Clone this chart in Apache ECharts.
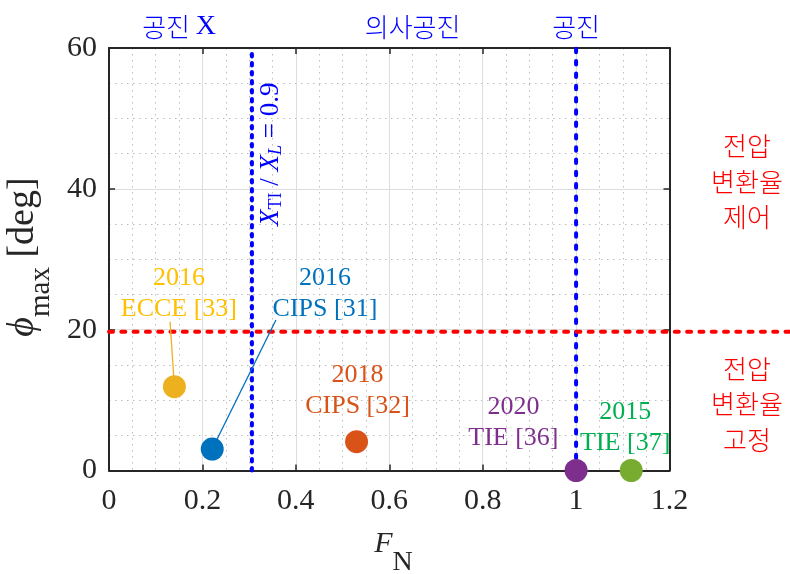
<!DOCTYPE html>
<html>
<head>
<meta charset="utf-8">
<script src="https://cdn.jsdelivr.net/npm/echarts@6/dist/echarts.min.js"></script>
<style>
  html, body { margin: 0; padding: 0; background: #fff; }
  #chart { width: 790px; height: 574px; }
</style>
</head>
<body>
<div id="chart"></div>
<script>
// Operating points reported in the literature
const venues = ['ECCE [33]', 'CIPS [31]', 'CIPS [32]', 'TIE [36]', 'TIE [37]'];
const years = ['2016', '2016', '2018', '2020', '2015'];
const fnValues = [0.14, 0.221, 0.53, 1.0, 1.118];
const phiMaxValues = [11.9, 3.05, 4.1, 0, 0];

// Region boundaries: X_TI / X_L = 0.9, resonance, and the voltage-gain limit
const boundaryFN = [0.306, 1.0];
const phiLimit = 19.7;

// Axis ranges and tick steps
const xRange = [0, 1.2];
const yRange = [0, 60];
const xStep = 0.2;
const yStep = 20;

// Region captions
const topCaptions = ['공진', '의사공진', '공진'];
const topCaptionSuffix = ['X', '', ''];
const topCaptionFN = [0.15, 0.65, 1.0];
const upperCaption = ['전압', '변환율', '제어'];
const lowerCaption = ['전압', '변환율', '고정'];

// ---- styling ----
const serif = '"Liberation Serif", "Times New Roman", "DejaVu Serif", serif';
const korean = '"Noto Sans CJK KR", "Noto Sans CJK SC", sans-serif';
const axisColor = '#262626';
const markerColors = ['#EDB120', '#0072BD', '#D95319', '#7E2F8E', '#77AC30'];
const textColors = ['#FFC000', '#0072BD', '#D95319', '#7E2F8E', '#00B050'];
// label centre relative to its marker, in pixels
const labelOffsets = [[4.5, -92.7], [112.7, -155], [1, -50.7], [-62.7, -47.5], [-6, -43]];
// leader lines from marker centre to a point near the label (pixels)
const leaders = { 0: [-4.3, -65], 1: [63.7, -129] };

function frameAxis(pos, isX, main) {
  const range = isX ? xRange : yRange;
  return {
    type: 'value',
    position: pos,
    min: range[0], max: range[1], interval: isX ? xStep : yStep,
    axisLine: { show: true, onZero: false, lineStyle: { color: axisColor, width: 2 } },
    axisTick: { show: true, inside: true, length: 6, lineStyle: { color: axisColor, width: 1.5 } },
    minorTick: { show: main, splitNumber: 4, length: 1, lineStyle: { opacity: 0 } },
    axisLabel: main ? {
      show: true, color: axisColor, fontSize: 30, fontFamily: serif, margin: isX ? 16 : 12
    } : { show: false },
    splitLine: { show: main, lineStyle: { color: '#dedede', width: 1 } },
    minorSplitLine: { show: main, lineStyle: { color: '#bdbdbd', width: 1, type: [1.5, 4.5] } }
  };
}

const pointData = fnValues.map((fn, i) => ({
  value: [fn, phiMaxValues[i]],
  itemStyle: { color: markerColors[i], opacity: 1 },
  label: {
    show: true,
    position: 'inside',
    offset: labelOffsets[i],
    formatter: '{a|' + years[i] + '}\n{a|' + venues[i] + '}',
    rich: { a: { color: textColors[i], fontSize: 26, fontFamily: serif, lineHeight: 31, align: 'center' } }
  }
}));

const boundaryDash = [[2.5, 6.5], [3.5, 8.8]];

const option = {
  animation: false,
  backgroundColor: '#ffffff',
  grid: { left: 109, right: 120.5, top: 48, bottom: 103.5 },
  xAxis: [frameAxis('bottom', true, true), frameAxis('top', true, false)],
  yAxis: [frameAxis('left', false, true), frameAxis('right', false, false)],
  series: boundaryFN.map((fn, k) => ({
    type: 'line',
    xAxisIndex: 0, yAxisIndex: 0,
    data: [[fn, yRange[0]], [fn, yRange[1]]],
    symbol: 'none',
    silent: true,
    z: 1,
    clip: false,
    lineStyle: { color: '#0000FF', width: 4, type: boundaryDash[k], cap: 'round' }
  })).concat([{
    type: 'scatter',
    xAxisIndex: 0, yAxisIndex: 0,
    symbol: 'circle',
    symbolSize: 23,
    clip: false,
    z: 5,
    itemStyle: { opacity: 1 },
    data: pointData
  }])
};

const chart = echarts.init(document.getElementById('chart'), null, { renderer: 'canvas' });
chart.setOption(option);

function px(x, y) {
  return chart.convertToPixel({ gridIndex: 0 }, [x, y]);
}

// text measuring for runs that mix normal and subscript pieces
const measureCtx = document.createElement('canvas').getContext('2d');
function fontOf(p) {
  return (p.italic ? 'italic ' : '') + p.size + 'px ' + (p.family || serif);
}
function measure(p) {
  measureCtx.font = fontOf(p);
  return measureCtx.measureText(p.text).width;
}
// Lay out a run of pieces centred at (cx, baseline); rot = 0 or PI/2 (reads upward).
function textRun(pieces, cx, baseline, rot, color) {
  const widths = pieces.map(measure);
  const total = widths.reduce((a, b) => a + b, 0);
  let along = -total / 2;
  const out = [];
  pieces.forEach((p, i) => {
    const perp = (p.dy || 0) - 0.34 * p.size;  // em middle relative to baseline
    let x, y;
    if (rot) { x = baseline + perp; y = cx - along; }
    else { x = cx + along; y = baseline + perp; }
    out.push({
      type: 'text', z: 10, silent: true, x: x, y: y, rotation: rot,
      style: {
        text: p.text, fill: color, align: 'left', verticalAlign: 'middle',
        fontFamily: p.family || serif, fontSize: p.size,
        fontStyle: p.italic ? 'italic' : 'normal'
      }
    });
    along += widths[i];
  });
  return out;
}

const graphics = [];

// voltage-gain limit, carried past the right edge of the axes
const limL = px(xRange[0], phiLimit);
graphics.push({
  type: 'line', z: 2, silent: true,
  shape: { x1: limL[0], y1: limL[1], x2: chart.getWidth(), y2: limL[1] },
  style: { stroke: '#FF0000', lineWidth: 4, lineDash: [4, 8.3], lineCap: 'round' }
});

// leader lines
Object.keys(leaders).forEach(k => {
  const i = +k;
  const p = px(fnValues[i], phiMaxValues[i]);
  graphics.push({
    type: 'line', z: 3, silent: true,
    shape: { x1: p[0], y1: p[1], x2: p[0] + leaders[k][0], y2: p[1] + leaders[k][1] },
    style: { stroke: markerColors[i], lineWidth: 1.3 }
  });
});

// captions above the axes
topCaptionFN.forEach((fn, i) => {
  const p = px(fn, yRange[1]);
  const txt = topCaptionSuffix[i]
    ? '{k|' + topCaptions[i] + ' }{s|' + topCaptionSuffix[i] + '}'
    : '{k|' + topCaptions[i] + '}';
  graphics.push({
    type: 'text', z: 10, silent: true, x: p[0], y: 27,
    style: {
      text: txt, align: 'center', verticalAlign: 'middle',
      rich: {
        k: { fontFamily: korean, fontWeight: 300, fontSize: 26, fill: '#0000FF', lineHeight: 30 },
        s: { fontFamily: serif, fontSize: 28, fill: '#0000FF', lineHeight: 30 }
      }
    }
  });
});

// captions to the right of the axes
[[upperCaption, 41], [lowerCaption, 9.4]].forEach(([lines, phi]) => {
  const p = px(xRange[1], phi);
  graphics.push({
    type: 'text', z: 10, silent: true, x: 747, y: p[1],
    style: {
      text: lines.join('\n'), align: 'center', verticalAlign: 'middle',
      fontFamily: korean, fontWeight: 300, fontSize: 26, lineHeight: 35.5, fill: '#FF0000'
    }
  });
});

// ratio annotation beside the left boundary
const rp = px(0.351, 44.9);
graphics.push(...textRun([
  { text: 'X', size: 27, italic: true },
  { text: 'TI', size: 18, dy: 2 },
  { text: ' / ', size: 27 },
  { text: 'X', size: 27, italic: true },
  { text: 'L', size: 18, italic: true, dy: 2 },
  { text: ' = 0.9', size: 27 }
], rp[1], 280, Math.PI / 2, '#0000FF'));

// axis titles
graphics.push(...textRun([
  { text: 'F', size: 30, italic: true },
  { text: 'N', size: 28, dy: 18 }
], 393.5, 554, 0, axisColor));

graphics.push(...textRun([
  { text: '\u03d5', size: 38, italic: true },
  { text: 'max', size: 29, dy: 15 },
  { text: ' [deg]', size: 38 }
], 257, 36, Math.PI / 2, axisColor));

chart.setOption({ graphic: { elements: graphics } });
</script>
</body>
</html>
